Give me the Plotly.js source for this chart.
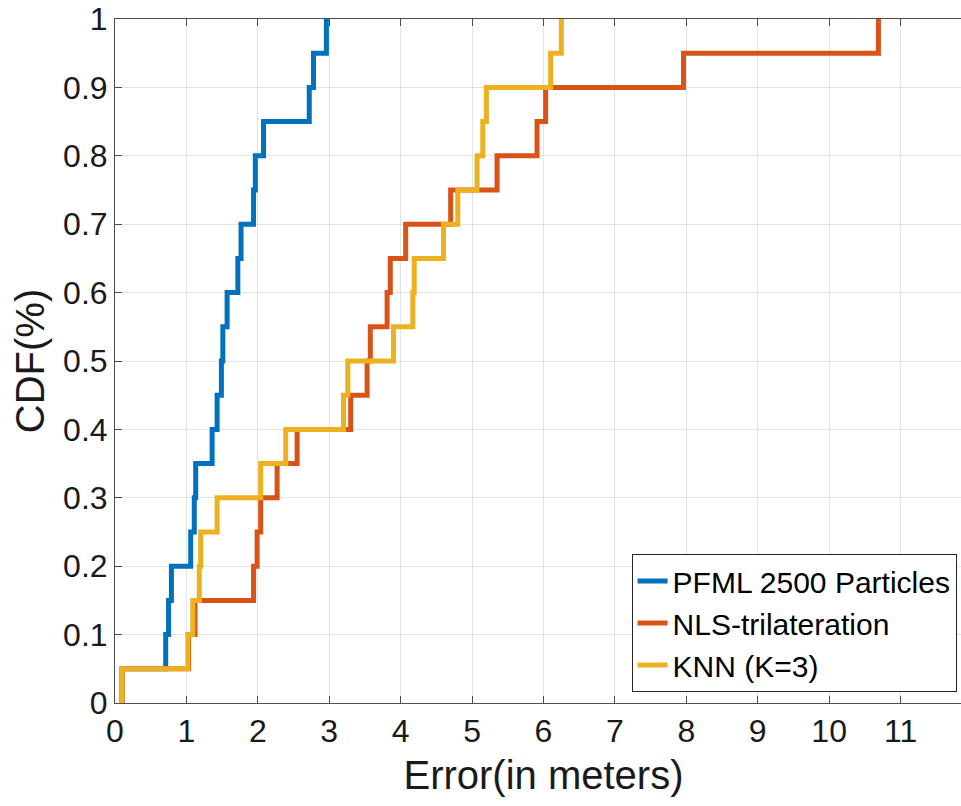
<!DOCTYPE html>
<html>
<head>
<meta charset="utf-8">
<script src="https://cdn.plot.ly/plotly-3.0.1.min.js"></script>
<style>
  html, body { margin: 0; padding: 0; overflow: hidden; background: #ffffff; }
  #chart { width: 990px; height: 806px; }
</style>
</head>
<body>
<div id="chart"></div>
<script>
// CDF levels (empirical CDF steps of 1/20)
const cdfLevels = [0, 0.05, 0.10, 0.15, 0.20, 0.25, 0.30, 0.35, 0.40, 0.45, 0.50,
                   0.55, 0.60, 0.65, 0.70, 0.75, 0.80, 0.85, 0.90, 0.95, 1.00];

// Sorted error samples (meters)
const pfmlErrors = [0.10, 0.71, 0.75, 0.79, 1.06, 1.11, 1.13, 1.36, 1.43, 1.49,
                    1.51, 1.57, 1.72, 1.765, 1.94, 1.965, 2.08, 2.72, 2.78, 2.96];
const nlsErrors  = [0.10, 1.03, 1.12, 1.94, 1.99, 2.04, 2.27, 2.55, 3.30, 3.53,
                    3.575, 3.81, 3.855, 4.07, 4.70, 5.35, 5.91, 6.03, 7.96, 10.69];
const knnErrors  = [0.10, 1.02, 1.09, 1.18, 1.20, 1.43, 2.04, 2.39, 3.20, 3.26,
                    3.90, 4.17, 4.19, 4.60, 4.80, 5.07, 5.15, 5.20, 6.10, 6.25];

const seriesNames  = ['PFML 2500 Particles', 'NLS-trilateration', 'KNN (K=3)'];
const seriesColors = ['#0072BD', '#D95319', '#EDB120'];
const xTickVals = [0, 1, 2, 3, 4, 5, 6, 7, 8, 9, 10, 11];
const yTickVals = [0, 0.1, 0.2, 0.3, 0.4, 0.5, 0.6, 0.7, 0.8, 0.9, 1];
const yTickText = ['0', '0.1', '0.2', '0.3', '0.4', '0.5', '0.6', '0.7', '0.8', '0.9', '1'];

function stairTrace(errors, name, color) {
  const xs = [errors[0]].concat(errors);
  return {
    x: xs, y: cdfLevels, name: name, type: 'scatter', mode: 'lines',
    line: { shape: 'hv', color: color, width: 5 }
  };
}

const data = [
  stairTrace(pfmlErrors, seriesNames[0], seriesColors[0]),
  stairTrace(nlsErrors, seriesNames[1], seriesColors[1]),
  stairTrace(knnErrors, seriesNames[2], seriesColors[2])
];

const font = 'Liberation Sans, Arial, Helvetica, sans-serif';
const layout = {
  width: 990, height: 806,
  margin: { l: 115, r: 18, t: 19, b: 103 },
  paper_bgcolor: '#ffffff', plot_bgcolor: '#ffffff',
  font: { family: font, color: '#1a1a1a', size: 32 },
  showlegend: true,
  legend: {
    x: 0.982, y: 0.016, xanchor: 'right', yanchor: 'bottom',
    bgcolor: '#ffffff', bordercolor: '#262626', borderwidth: 1,
    font: { family: font, size: 30, color: '#000000' },
    tracegroupgap: 0
  },
  xaxis: {
    range: [0, 12], tickvals: xTickVals,
    ticks: 'inside', ticklen: 7, tickcolor: '#4d4d4d', tickwidth: 1,
    showline: true, linecolor: '#4d4d4d', linewidth: 1, mirror: 'ticks',
    showgrid: true, gridcolor: '#e3e3e3', gridwidth: 1, zeroline: false,
    tickfont: { family: font, size: 32, color: '#1a1a1a' },
    title: { text: 'Error(in meters)', font: { family: font, size: 40, color: '#1a1a1a' }, standoff: 12 }
  },
  yaxis: {
    range: [0, 1], tickvals: yTickVals, ticktext: yTickText,
    ticks: 'inside', ticklen: 7, tickcolor: '#4d4d4d', tickwidth: 1,
    showline: true, linecolor: '#4d4d4d', linewidth: 1, mirror: 'ticks',
    showgrid: true, gridcolor: '#e3e3e3', gridwidth: 1, zeroline: false,
    tickfont: { family: font, size: 32, color: '#1a1a1a' },
    title: { text: 'CDF(%)', font: { family: font, size: 40, color: '#1a1a1a' }, standoff: 6 }
  }
};

Plotly.newPlot('chart', data, layout, { displayModeBar: false, staticPlot: true });
</script>
</body>
</html>
